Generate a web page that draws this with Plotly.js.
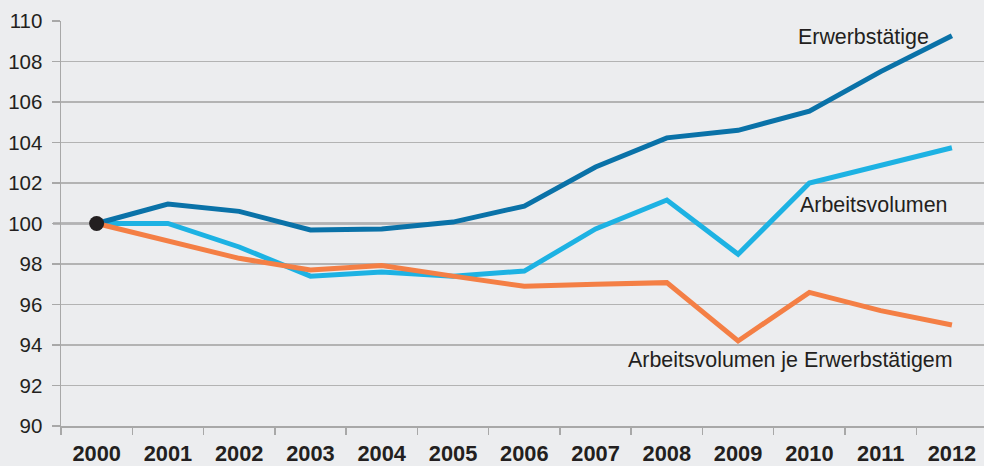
<!DOCTYPE html>
<html>
<head>
<meta charset="utf-8">
<script src="https://cdn.plot.ly/plotly-3.0.1.min.js"></script>
<style>html,body{margin:0;padding:0;background:#ecedef;}#chart{width:984px;height:466px;}</style>
</head>
<body>
<div id="chart"></div>
<script>
const years = ["2000","2001","2002","2003","2004","2005","2006","2007","2008","2009","2010","2011","2012"];
const erwerbstaetige = [100, 100.96, 100.6, 99.68, 99.73, 100.07, 100.86, 102.79, 104.23, 104.6, 105.55, 107.5, 109.27];
const arbeitsvolumen = [100, 100, 98.84, 97.4, 97.6, 97.4, 97.65, 99.73, 101.16, 98.48, 102.0, 102.9, 103.74];
const jeErwerbstaetigem = [100, 99.15, 98.28, 97.7, 97.92, 97.4, 96.9, 97.0, 97.08, 94.2, 96.6, 95.7, 94.99];
const yTicks = [90, 92, 94, 96, 98, 100, 102, 104, 106, 108, 110];
const labels = ["Erwerbstätige", "Arbeitsvolumen", "Arbeitsvolumen je Erwerbstätigem"];

const colors = ["#0a72a8", "#1db2e3", "#f47f45"];
const traces = [
  {x: years, y: arbeitsvolumen, name: labels[1], type: "scatter", mode: "lines", line: {color: colors[1], width: 5}},
  {x: years, y: erwerbstaetige, name: labels[0], type: "scatter", mode: "lines", line: {color: colors[0], width: 5}},
  {x: years, y: jeErwerbstaetigem, name: labels[2], type: "scatter", mode: "lines", line: {color: colors[2], width: 5}},
  {x: [years[0]], y: [erwerbstaetige[0]], type: "scatter", mode: "markers", marker: {color: "#231f20", size: 15}, showlegend: false}
];

const font = {family: "Liberation Sans, Arial, sans-serif", color: "#231f20"};
const annFont = {family: font.family, size: 21.4, color: "#231f20"};
const layout = {
  width: 984, height: 466,
  margin: {l: 61, r: 0, t: 21, b: 40},
  paper_bgcolor: "#ecedef", plot_bgcolor: "#ecedef",
  showlegend: false,
  font: font,
  xaxis: {
    type: "category", range: [-0.5, 12.45],
    tickson: "boundaries", ticks: "outside", ticklen: 7, tickcolor: "#a8a8a8", tickwidth: 1.5,
    showgrid: false, showline: true, linecolor: "#a8a8a8", linewidth: 1.5,
    tickfont: {family: font.family, size: 21.8, color: "#231f20", weight: "bold"},
    ticklabelstandoff: 7,
    fixedrange: true
  },
  yaxis: {
    range: [90, 110], tickvals: yTicks, ticktext: yTicks.map(String),
    ticks: "outside", ticklen: 8, tickcolor: "#a8a8a8", tickwidth: 1.5,
    showgrid: true, gridcolor: "#b3b3b3", gridwidth: 1.5,
    showline: true, linecolor: "#a8a8a8", linewidth: 1.5,
    zeroline: false,
    tickfont: {family: font.family, size: 20.5, color: "#231f20"},
    ticklabelstandoff: 5,
    fixedrange: true
  },
  shapes: [
    {type: "line", xref: "paper", yref: "y", x0: -8/923, x1: 1, y0: 100, y1: 100, line: {color: "#1a1a1a", width: 1.5}, layer: "below"}
  ],
  annotations: [
    {x: 11.71, y: 109.2, xref: "x", yref: "y", text: labels[0], showarrow: false, xanchor: "right", yanchor: "middle", font: annFont},
    {x: 9.84, y: 100.9, xref: "x", yref: "y", text: labels[1], showarrow: false, xanchor: "left", yanchor: "middle", font: annFont},
    {x: 7.43, y: 93.26, xref: "x", yref: "y", text: labels[2], showarrow: false, xanchor: "left", yanchor: "middle", font: annFont}
  ]
};

Plotly.newPlot("chart", traces, layout, {displayModeBar: false, staticPlot: true});
</script>
</body>
</html>
